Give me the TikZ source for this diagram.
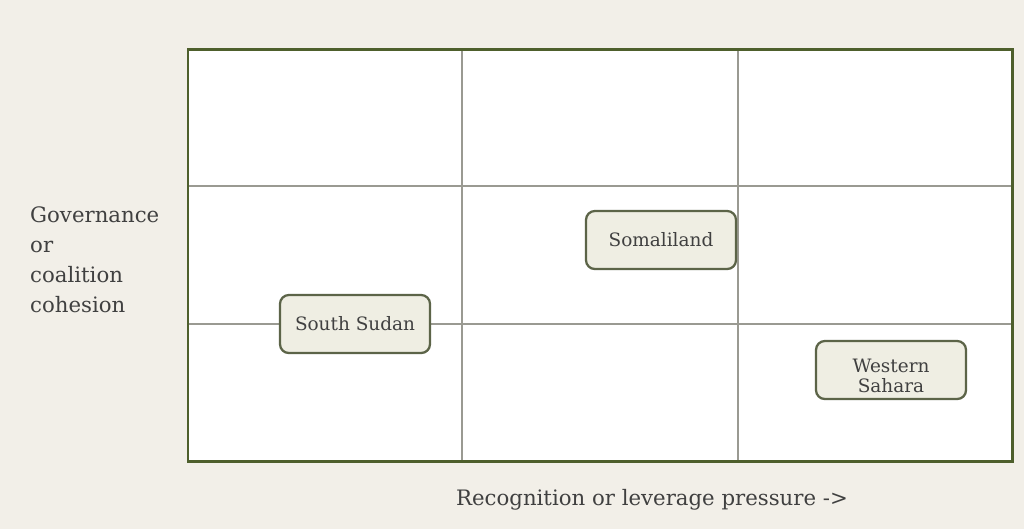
\documentclass[tikz,border=0pt]{standalone}
\usepackage{fontspec}
\setmainfont{DejaVu Serif}
\usetikzlibrary{positioning}
\definecolor{Paper}{HTML}{F2EFE8}
\definecolor{Frame}{HTML}{4E5F2C}
\definecolor{Grid}{HTML}{9A9A92}
\definecolor{BoxFill}{HTML}{EFEEE3}
\definecolor{BoxLine}{HTML}{5C6448}
\definecolor{Ink}{HTML}{404040}
\tikzset{
    casebox/.style={rectangle, rounded corners=5pt, draw=BoxLine, line width=1.3pt, fill=BoxFill, text=Ink, align=center, font={\fontsize{10.5}{11.3}\selectfont}, minimum width=3cm, minimum height=1.16cm, inner sep=2pt},
    gridline/.style={Grid, line width=0.9pt},
    axislabel/.style={text=Ink, align=left, font={\fontsize{12.1}{17}\selectfont}},
}

\begin{document}
\begin{tikzpicture}[x=0.02cm, y=-0.02cm]
                % Sfondo
                \fill[Paper] (0,0) rectangle (1024,529);

                % Griglia 3x3
                \coordinate (nw) at (188,49);
                \coordinate (se) at (1012,461);
                \fill[white] (nw) rectangle (se);
                \foreach \x in {462,738} \draw[gridline] (\x,49) -- (\x,461);
                \foreach \y in {186,324} \draw[gridline] (188,\y) -- (1012,\y);
                \draw[Frame, line width=1.7pt] (nw) rectangle (se);

                % Casi
                \node[casebox] (sudan) at (355,324) {South Sudan};
                \node[casebox] (somali) at (661,240) {Somaliland};
                \node[casebox] (sahara) at (891,370) {\rule{0pt}{14.5pt}Western\\Sahara};

                % Etichette assi
                \node[axislabel, anchor=west] (yaxis) at (24,260) {Governance\\or\\coalition\\cohesion};
                \node[axislabel] (xaxis) at (652,500) {Recognition or leverage pressure ->};
            \end{tikzpicture}
\end{document}
